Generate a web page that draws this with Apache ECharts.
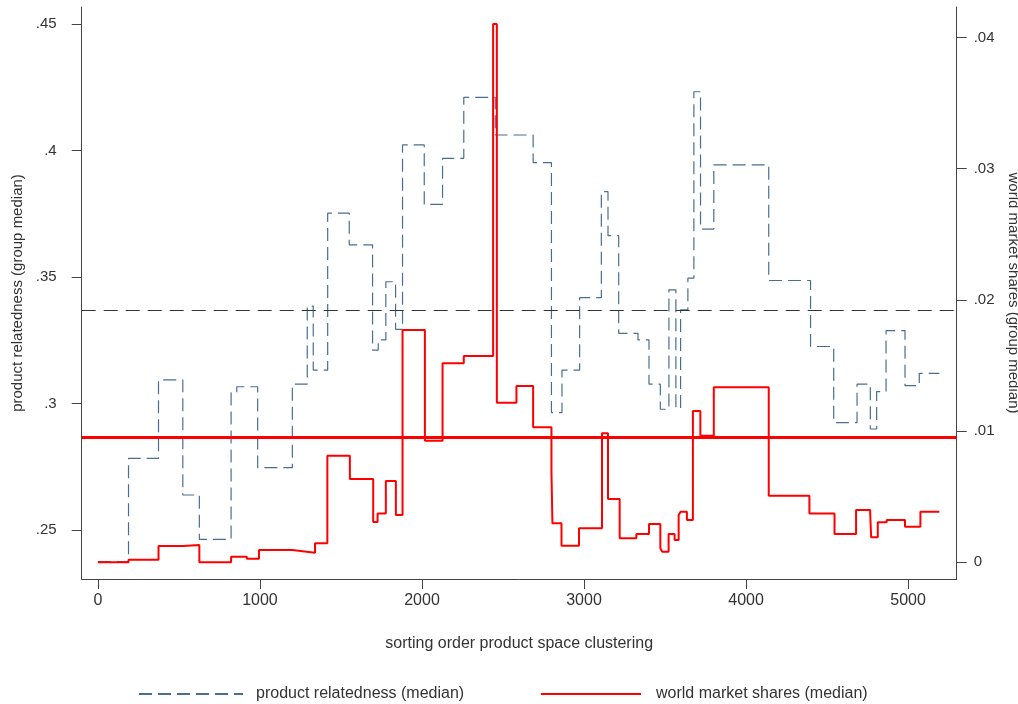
<!DOCTYPE html>
<html>
<head>
<meta charset="utf-8">
<script src="https://cdn.jsdelivr.net/npm/echarts@6/dist/echarts.min.js"></script>
<style>
html,body{margin:0;padding:0;background:#fff;}
#chart{width:1018px;height:704px;}
</style>
</head>
<body>
<div id="chart"></div>
<script>
// sorting order (start of each step) and group medians
var relX = [0, 189, 374, 524, 626, 822, 857, 986, 1200, 1292, 1329, 1418, 1551, 1695, 1730, 1777, 1837, 1880, 2014, 2127, 2258, 2452, 2686, 2799, 2864, 2973, 3107, 3148, 3214, 3333, 3401, 3471, 3524, 3567, 3596, 3641, 3678, 3719, 3801, 4140, 4398, 4541, 4685, 4767, 4806, 4864, 4981, 5069, 5193];
var relY = [.2375, .2783, .3093, .2638, .2463, .3043, .3066, .2746, .3076, .3385, .3132, .3752, .3627, .3211, .3251, .3481, .3293, .4022, .3787, .3969, .4210, .4061, .3952, .2964, .3132, .3418, .3837, .3663, .3277, .3251, .3076, .2977, .3449, .2981, .3370, .3495, .4232, .3689, .3943, .3486, .3225, .2924, .3076, .2899, .3047, .3288, .3070, .3119, .3119];

var shX = [0, 189, 374, 528, 626, 822, 919, 994, 1200, 1289, 1340, 1416, 1555, 1699, 1726, 1777, 1839, 1880, 2018, 2127, 2258, 2439, 2462, 2583, 2686, 2799, 2805, 2861, 2969, 3111, 3148, 3220, 3323, 3401, 3471, 3483, 3522, 3559, 3584, 3596, 3635, 3672, 3718, 3801, 4140, 4391, 4546, 4679, 4766, 4772, 4813, 4868, 4981, 5076, 5193];
var shY = [0, .0002, .00124, .00132, 0, .00043, .00027, .00094, .00081, .00073, .00145, .00813, .00635, .00307, .00372, .0062, .0036, .01771, .00927, .01517, .01572, .04103, .01216, .01344, .01029, .00698, .00297, .00127, .00259, .00983, .00482, .00183, .00216, .00292, .00107, .00081, .00216, .0017, .0036, .00386, .00322, .01153, .00965, .01334, .00508, .00373, .00216, .00399, .00377, .00191, .00305, .00322, .00271, .00386, .00386];

var relOverall = 0.3367;
var shOverall = 0.00953;

var xTicks = [0, 1000, 2000, 3000, 4000, 5000];
var leftTicks = [0.25, 0.30, 0.35, 0.40, 0.45];
var rightTicks = [0, 0.01, 0.02, 0.03, 0.04];

var relName = 'product relatedness (median)';
var shName = 'world market shares (median)';

function pairs(xs, ys) { return xs.map(function (x, i) { return [x, ys[i]]; }); }
function fmt(v) {
  if (Math.abs(v) < 1e-9) return '0';
  return v.toFixed(2).replace(/0+$/, '').replace(/^0/, '');
}

var FONT = 'Liberation Sans';
var TXT = '#333';
var AX = '#444';

var chart = echarts.init(document.getElementById('chart'), null, {renderer: 'canvas'});
chart.setOption({
  animation: false,
  backgroundColor: '#fff',
  textStyle: {fontFamily: FONT},
  grid: {left: 81.7, right: 61.3, top: 7, bottom: 125, containLabel: false, outerBoundsMode: 'none'},
  legend: [
    {data: [relName], left: 138, top: 686, padding: 0, itemWidth: 104, itemHeight: 14,
     itemStyle: {opacity: 0, borderWidth: 0},
     textStyle: {fontFamily: FONT, fontSize: 16, color: TXT, padding: [0, 0, 0, 8]}},
    {data: [shName], left: 540, top: 686, padding: 0, itemWidth: 100, itemHeight: 14,
     itemStyle: {opacity: 0, borderWidth: 0},
     textStyle: {fontFamily: FONT, fontSize: 16, color: TXT, padding: [0, 0, 0, 10]}}
  ],
  xAxis: {
    type: 'value', min: -100, max: 5300,
    name: 'sorting order product space clustering', nameLocation: 'middle', nameGap: 57,
    nameTextStyle: {fontFamily: FONT, fontSize: 16, color: TXT},
    axisLine: {show: true, onZero: false, lineStyle: {color: AX, width: 1}},
    axisTick: {show: true, length: 10, lineStyle: {color: AX}, customValues: xTicks},
    axisLabel: {color: TXT, fontFamily: FONT, fontSize: 16, margin: 14, customValues: xTicks,
                formatter: function (v) { return String(v); }},
    splitLine: {show: false}
  },
  yAxis: [
    {
      type: 'value', position: 'left', min: 0.2306, max: 0.4567,
      name: 'product relatedness (group median)', nameLocation: 'middle', nameGap: 44,
      nameTextStyle: {fontFamily: FONT, fontSize: 15, color: TXT},
      axisLine: {show: true, onZero: false, lineStyle: {color: AX, width: 1}},
      axisTick: {show: true, length: 10, lineStyle: {color: AX}, customValues: leftTicks},
      axisLabel: {color: TXT, fontFamily: FONT, fontSize: 15, margin: 25, formatter: fmt, customValues: leftTicks},
      splitLine: {show: false}
    },
    {
      type: 'value', position: 'right', min: -0.00127, max: 0.04232,
      name: 'world market shares (group median)', nameLocation: 'middle', nameGap: 44, nameRotate: -90,
      nameTextStyle: {fontFamily: FONT, fontSize: 15, color: TXT},
      axisLine: {show: true, onZero: false, lineStyle: {color: AX, width: 1}},
      axisTick: {show: true, length: 10, lineStyle: {color: AX}, customValues: rightTicks},
      axisLabel: {color: TXT, fontFamily: FONT, fontSize: 15, margin: 17, formatter: fmt, customValues: rightTicks},
      splitLine: {show: false}
    }
  ],
  series: [
    {
      name: relName, type: 'line', yAxisIndex: 0, step: 'end', symbol: 'none',
      data: pairs(relX, relY),
      lineStyle: {color: '#4a6d92', width: 1.2, type: [13, 6]},
      itemStyle: {color: '#4a6d92'},
      markLine: {
        silent: true, symbol: 'none', precision: 6, label: {show: false},
        lineStyle: {color: '#333', width: 1.2, type: [14, 8]},
        data: [{yAxis: relOverall}]
      },
      z: 2
    },
    {
      name: shName, type: 'line', yAxisIndex: 1, step: 'end', symbol: 'none',
      data: pairs(shX, shY),
      lineStyle: {color: '#ff0000', width: 2, type: 'solid'},
      itemStyle: {color: '#ff0000'},
      markLine: {
        silent: true, symbol: 'none', precision: 6, label: {show: false},
        lineStyle: {color: '#ff0000', width: 3, type: 'solid'},
        data: [{yAxis: shOverall}]
      },
      z: 3
    }
  ]
});
</script>
</body>
</html>
